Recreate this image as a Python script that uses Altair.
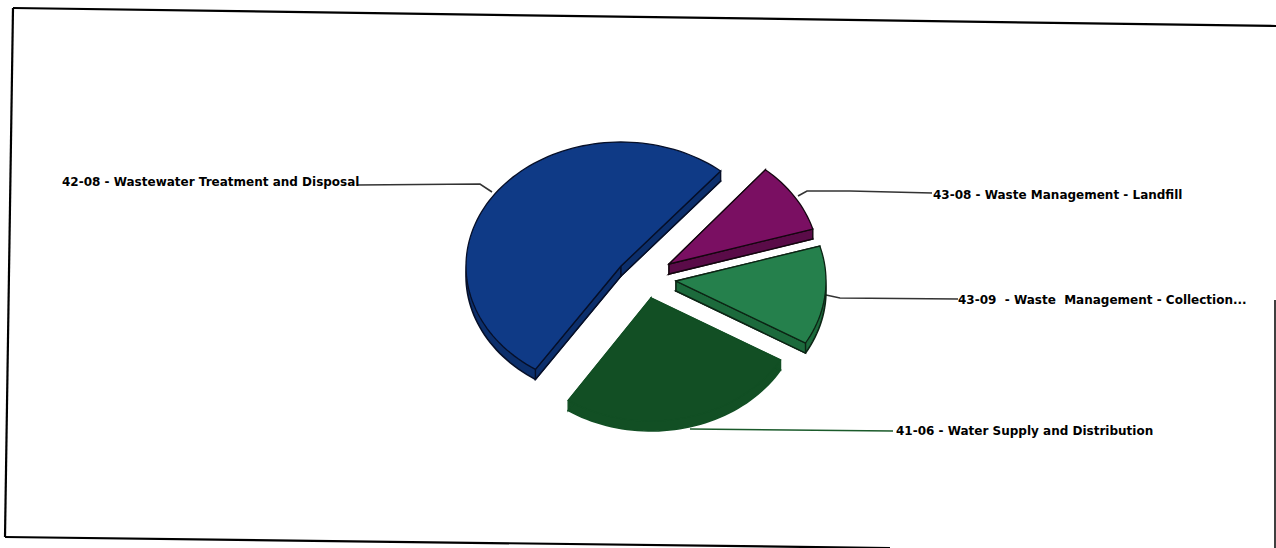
import math
import altair as alt
import pandas as pd

# Pie values, clockwise from the first slice's leading edge
names = ["43-08 - Waste Management - Landfill",
         "43-09\u00a0 - Waste\u00a0\u00a0Management - Collection...",
         "41-06 - Water Supply and Distribution",
         "42-08 - Wastewater Treatment and Disposal"]
values = [9.3, 13.0, 25.9, 51.8]
start_angle = 40.0

top_colors = ["#7a0f62", "#25804c", "#124f24", "#0f3a86"]
side_colors = ["#5a0b48", "#1c6a3c", "#124f24", "#0c2f6c"]
edge_colors = ["#14060f", "#0c2414", "#124f24", "#060f28"]

# Exploded slice centres and ellipse radii of the tilted pie
centres = [(669, 264), (676, 281), (651, 298), (621, 266)]
radii = [(150, 123), (150, 123), (150, 123), (155, 124)]
depths = [10, 10, 10, 10]

W, H = 1276, 548
x_scale = alt.Scale(domain=[0, W], range=[0, W], nice=False, zero=False)
y_scale = alt.Scale(domain=[0, H], range=[0, H], nice=False, zero=False)
X = alt.X("x:Q", scale=x_scale, axis=None)
Y = alt.Y("y:Q", scale=y_scale, axis=None)


def wedge(centre, radius, a0, a1, dy=0):
    """Outline of one pie slice on the tilted ellipse, as an ordered table."""
    cx, cy = centre
    rx, ry = radius
    n = max(4, int((a1 - a0) / 2))
    rows = [{"i": 0, "x": cx, "y": cy + dy}]
    for k in range(n + 1):
        t = math.radians(a0 + (a1 - a0) * k / n)
        rows.append({"i": k + 1, "x": cx + rx * math.sin(t), "y": cy - ry * math.cos(t) + dy})
    return pd.DataFrame(rows)


def cut_face(outline, index, dy):
    """Vertical wall joining the slice centre to one arc end."""
    a = outline.iloc[0]
    b = outline.iloc[index]
    return pd.DataFrame({"i": [0, 1, 2, 3],
                         "x": [a.x, b.x, b.x, a.x],
                         "y": [a.y, b.y, b.y + dy, a.y + dy]})


def closed_shape(table, fill, stroke, width):
    return alt.Chart(table).mark_line(fill=fill, color=stroke, strokeWidth=width,
                                      interpolate="linear-closed").encode(x=X, y=Y, order="i:Q")


layers = []

# Scanned page frame
frame_lines = [
    [(13, 8), (1276, 26)],
    [(13, 8), (5, 537)],
    [(5, 537), (890, 548)],
    [(1275, 300), (1275, 548)],
]
frame_widths = [2.2, 2.2, 2.2, 1.5]
for seg, w in zip(frame_lines, frame_widths):
    d = pd.DataFrame({"i": [0, 1], "x": [seg[0][0], seg[1][0]], "y": [seg[0][1], seg[1][1]]})
    layers.append(alt.Chart(d).mark_line(color="#000000", strokeWidth=w).encode(x=X, y=Y, order="i:Q"))

# Leader lines from each slice to its label
leaders = [
    [(932, 193), (850, 191), (807, 191), (798, 196)],
    [(958, 299), (840, 298), (826, 295)],
    [(893, 431), (690, 429)],
    [(357, 185), (480, 184), (492, 192)],
]
leader_colors = ["#333333", "#333333", "#1a5a2a", "#333333"]
for pts, c in zip(leaders, leader_colors):
    d = pd.DataFrame({"i": range(len(pts)), "x": [p[0] for p in pts], "y": [p[1] for p in pts]})
    layers.append(alt.Chart(d).mark_line(color=c, strokeWidth=1.6).encode(x=X, y=Y, order="i:Q"))

# Slices: darker walls and a shifted floor give the thickness, the top face sits on them
angle = start_angle
for v, c, r, dz, top, side, edge in zip(values, centres, radii, depths, top_colors, side_colors, edge_colors):
    span = v / sum(values) * 360
    lower = wedge(c, r, angle, angle + span, dz)
    upper = wedge(c, r, angle, angle + span)
    layers.append(closed_shape(lower, side, edge, 1.6))
    layers.append(closed_shape(cut_face(upper, 1, dz), side, edge, 1.4))
    layers.append(closed_shape(cut_face(upper, len(upper) - 1, dz), side, edge, 1.4))
    layers.append(closed_shape(upper, top, edge, 1.3))
    angle += span

# Slice labels
label_x = [933, 958, 896, 62]
label_y = [195, 300, 431, 182]
labels = pd.DataFrame({"label": names, "x": label_x, "y": label_y})
layers.append(alt.Chart(labels).mark_text(align="left", baseline="middle", font="DejaVu Sans",
                                          fontWeight="bold", fontSize=12, color="#000000")
              .encode(x=X, y=Y, text="label:N"))

chart = alt.layer(*layers).properties(
    width=W, height=H, padding=0, autosize=alt.AutoSizeParams(type="none"),
    background="#ffffff"
).configure_view(stroke=None)

chart.save("out.html", embed_options={"renderer": "svg", "actions": False})
